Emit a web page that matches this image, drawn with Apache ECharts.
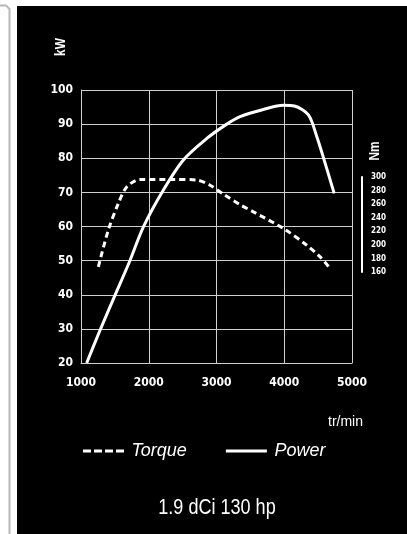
<!DOCTYPE html>
<html>
<head>
<meta charset="utf-8">
<script src="https://cdn.jsdelivr.net/npm/echarts@6/dist/echarts.min.js"></script>
<style>
html,body{margin:0;padding:0;background:#fff;}
#c{width:407px;height:534px;}
</style>
</head>
<body>
<div id="c"></div>
<script>
// Data
const powerRpm = [1084, 1281, 1503, 1714, 1921, 2216, 2511, 2857, 3152, 3348, 3693, 3988, 4150, 4357, 4481, 4604, 4737];
const powerKW  = [20, 29.6, 39.9, 49.6, 59.9, 70.7, 79.5, 85.8, 90.0, 92.2, 94.3, 95.5, 95.3, 92.7, 86.3, 78.5, 69.7];
// Torque curve, read on the kW scale of the plot
const torqueRpm = [1256, 1404, 1552, 1675, 1872, 2363, 2709, 2906, 3100, 3348, 3545, 3988, 4333, 4530, 4678];
const torqueVal = [48.2, 59, 66.8, 71.6, 73.8, 73.8, 73.6, 72.1, 69.5, 66.4, 64.3, 59.4, 54.5, 51.1, 47.7];
const nmTicks = [160, 180, 200, 220, 240, 260, 280, 300];
const xTicks = [1000, 2000, 3000, 4000, 5000];
const kwTicks = [20, 30, 40, 50, 60, 70, 80, 90, 100];
const seriesNames = ['Torque', 'Power'];
const title = '1.9 dCi 130 hp';
const unitX = 'tr/min';

const narrow = "'DejaVu Sans Condensed', 'Liberation Sans Narrow', sans-serif";
const gridCol = '#cfcfcf';
const dashIcon = 'path://M0,0h8v3h-8zM11,0h8v3h-8zM22,0h8v3h-8zM33,0h8v3h-8z';
const solidIcon = 'path://M0,0h41v3h-41z';

const chart = echarts.init(document.getElementById('c'), null, {renderer: 'canvas'});
chart.setOption({
  backgroundColor: '#ffffff',
  animation: false,
  graphic: [
    {type: 'rect', shape: {x: 17, y: 6, width: 390, height: 528}, style: {fill: '#000'}, z: -10},
    {type: 'polyline', shape: {points: [[0, 5.5], [6, 5.5], [9.5, 9], [9.5, 534]]}, style: {stroke: '#b8b8b8', lineWidth: 2, fill: null}, z: -10},
    {type: 'text', x: 61, y: 47, rotation: Math.PI / 2, scaleX: 0.85,
      style: {text: 'kW', fill: '#fff', font: 'bold 14px "Liberation Sans", Arial, sans-serif', align: 'center', verticalAlign: 'middle'}},
    {type: 'text', x: 375, y: 151, rotation: Math.PI / 2, scaleX: 0.85,
      style: {text: 'Nm', fill: '#fff', font: 'bold 14px "Liberation Sans", Arial, sans-serif', align: 'center', verticalAlign: 'middle'}},
    {type: 'text', x: 363, y: 422,
      style: {text: unitX, fill: '#fff', font: '14px "Liberation Sans", Arial, sans-serif', align: 'right', verticalAlign: 'middle'}},
    {type: 'text', x: 217, y: 508, scaleX: 0.82,
      style: {text: title, fill: '#fff', font: '22px "Liberation Sans", Arial, sans-serif', align: 'center', verticalAlign: 'middle'}}
  ],
  legend: {
    data: [{name: seriesNames[0], icon: dashIcon}, {name: seriesNames[1], icon: solidIcon}],
    left: 83, top: 442, padding: 0,
    itemWidth: 42, itemHeight: 3, itemGap: 39,
    textStyle: {color: '#fff', fontStyle: 'italic', fontSize: 18, fontFamily: '"Liberation Sans", Arial, sans-serif', padding: [0, 0, 0, 2]}
  },
  grid: [
    {left: 81, top: 90, width: 271, height: 273},
    {left: 362, top: 177, width: 1, height: 95}
  ],
  xAxis: [
    {
      type: 'value', gridIndex: 0, min: xTicks[0], max: xTicks[xTicks.length - 1], interval: 1000,
      axisLine: {show: true, lineStyle: {color: gridCol, width: 1}},
      axisTick: {show: false},
      splitLine: {show: true, lineStyle: {color: gridCol, width: 1}},
      axisLabel: {color: '#fff', fontWeight: 'bold', fontSize: 12, fontFamily: narrow, margin: 14,
        formatter: v => String(v)}
    },
    {type: 'value', gridIndex: 1, show: false, min: 0, max: 1}
  ],
  yAxis: [
    {
      type: 'value', gridIndex: 0, min: kwTicks[0], max: kwTicks[kwTicks.length - 1], interval: 10,
      axisLine: {show: true, lineStyle: {color: gridCol, width: 1}},
      axisTick: {show: false},
      splitLine: {show: true, lineStyle: {color: gridCol, width: 1}},
      axisLabel: {color: '#fff', fontWeight: 'bold', fontSize: 12, fontFamily: narrow, margin: 8,
        formatter: v => String(v)}
    },
    {
      type: 'value', gridIndex: 1, position: 'right', min: nmTicks[0], max: nmTicks[nmTicks.length - 1], interval: 20,
      axisLine: {show: true, lineStyle: {color: '#fff', width: 2}},
      axisTick: {show: false},
      splitLine: {show: false},
      axisLabel: {color: '#fff', fontWeight: 'bold', fontSize: 8, fontFamily: narrow, margin: 8,
        formatter: v => String(v)}
    }
  ],
  series: [
    {
      name: seriesNames[0], type: 'line', xAxisIndex: 0, yAxisIndex: 0,
      data: torqueRpm.map((r, i) => [r, torqueVal[i]]),
      smooth: 0.3, symbol: 'none',
      lineStyle: {color: '#fff', width: 3, type: [6, 4]},
      itemStyle: {color: '#fff'}
    },
    {
      name: seriesNames[1], type: 'line', xAxisIndex: 0, yAxisIndex: 0,
      data: powerRpm.map((r, i) => [r, powerKW[i]]),
      smooth: 0.3, symbol: 'none',
      lineStyle: {color: '#fff', width: 3},
      itemStyle: {color: '#fff'}
    }
  ]
});
</script>
</body>
</html>
